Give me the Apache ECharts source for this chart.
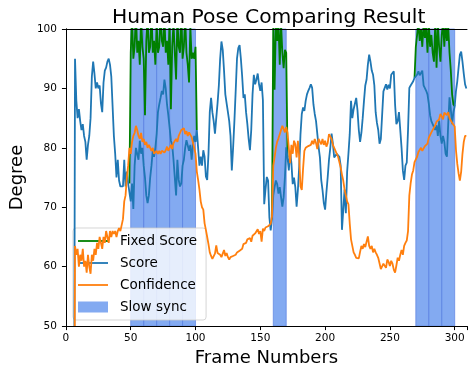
<!DOCTYPE html>
<html><head><meta charset="utf-8">
<script src="https://cdn.jsdelivr.net/npm/echarts@6/dist/echarts.min.js"></script>
<style>html,body{margin:0;padding:0;background:#fff}#c{width:470px;height:372px}</style>
</head><body><div id="c"></div>
<script>
const chartTitle = 'Human Pose Comparing Result';
const xName = 'Frame Numbers';
const yName = 'Degree';
const seriesNames = ['Fixed Score', 'Score', 'Confidence', 'Slow sync'];
const xTicks = [0, 50, 100, 150, 200, 250, 300];
const yTicks = [50, 60, 70, 80, 90, 100];

// Score and Confidence, one value per frame starting at frame 6
const firstFrame = 6;
const score = [0,
 95,88,85,86.5,84.5,83,84,82,81,78,
 80.5,82,85,92,94.5,92.5,90,91,90,90.5,
 87.5,86,91,93,93.5,94.5,95,94,92,87,
 82,79,75,78,74.5,73.5,73.5,73.5,78,73.5,
 76,74,74,71,74,69.7,77,80,79,78,
 81.2,79,80,77,75,72,70.7,72,75,77,
 79.6,78.5,80,82.3,86,87.3,88.4,89.6,89,91.5,
 90,87.3,85.5,83.4,81.2,80.5,78,75,72,78,
 74.6,73.5,74,77,78,80,81.3,81.5,79.5,80.5,
 78,80.5,82,81,83,80,77,78.5,77,79.6,
 78.5,75.2,74.6,79,86,88.4,86,84.5,82.4,85,
 87.5,90.5,95,97.9,96.5,93,89,87.5,86,84.5,
 82,76.2,80,84.5,89.6,95,96.8,97.3,95,92,
 88.4,89,86,84,81.5,79.6,83,89,92.3,90.7,
 91.5,92.5,90.7,89.6,91,88,70.5,73,75.1,74.5,
 68.3,66.1,68,72,73.4,74.5,73.9,72.3,73.4,71.7,
 70.1,71.7,75.1,80.1,78.4,76.2,79.5,77.4,73.9,75,
 73.4,70.1,72.9,76.8,82.3,85.7,86.8,86.2,87.9,89,
 89.6,90.1,90.7,90.1,87.3,85.7,84.5,82.3,80.1,78.4,
 74.6,72.9,70.7,69.6,72.5,75.1,78,80,82.4,80.7,
 78.4,78.2,79,79.3,78.5,77,66.2,69.5,73,69,
 76,79,82.3,87.9,85,86.5,86.2,88.4,86.3,83,
 81,82.5,85,87.9,90.5,91.5,94,95.7,94.5,93,
 92.3,90.5,86,84.2,83,80.7,81.5,85.5,89.5,90.1,
 90.7,89.8,90.6,90,92.3,92.3,92.9,87.3,84,84.5,
 86,83,80,76.2,74.6,77,77.5,83,90.1,90.5,
 90.8,91.2,91.8,92,92.3,92.9,92.2,92,93,90.5,
 90.7,89.6,89,87.5,85.5,84.5,84,83.5,83,83.8,
 82,84.6,82,80.7,82,81,79,78.5,84,88.5,
 86.5,84,86,87,89.6,91.2,93.5,95.7,96.2,94.5,
 92.5,90.7,90];

const confidence = [0,
 63.5,62,63,60,62,61,63,60,61,59,
 62,60,58.8,62,61,63,62,64,63,65,
 64,63,65,64,66,65,64,66,65,66,
 65.5,66,65,66,66.5,66,67,68,71,72,
 75,77,80,79,81,82,82.5,83.7,83,82,
 81.5,82.5,81,81.5,80.5,81,80,80.5,80,79.5,
 80,79,78.8,79.5,79,79.5,79,79.5,79.8,79.2,
 79.6,80.2,79.5,80,80.5,79.8,80.8,80.5,81.5,81,
 82,82.5,83,82.7,83.3,82.3,82.8,82,82.6,82.5,
 81.8,81.5,80,79,76,74.6,73,71,70,69.6,
 67.3,66.2,65,63.8,62.4,61.8,61.3,61.5,62.2,63.6,
 62.3,62.5,62,61.6,62.2,62.8,61.8,62.3,61.6,61.2,
 61.6,61.4,61.8,61.6,62,62.4,62.1,62.7,62.4,63,
 63.8,63.5,64,64.6,64.5,64.8,64.2,65.2,65,65.6,
 65.7,66.3,65.5,66,64.2,66.4,66,66.6,66.4,66.8,
 67,67.2,68.5,77,78.4,80,81,81.6,82.3,83,
 83.7,83.2,82.6,83.5,82.5,80,77.4,80.5,79,81.2,
 80.6,78.4,81.2,78.5,73.5,72.9,76.5,79.5,80,79.7,
 80.3,80.5,80.5,81.2,80.6,81.5,80.8,79.8,81.5,81,
 80.6,81.5,80.5,81.2,80.2,80.8,82.3,82,81.5,80.5,
 80,79.8,79,78.5,77.6,76.7,75.5,74.5,73,72,
 71,70.5,67.3,64.6,63.5,62.4,62,61.5,61.2,61.4,
 62.5,63.5,63,63.8,63.3,63.6,65.1,63.5,63,63.5,
 62.4,63,62.4,62,61.5,61.3,59.6,59.4,60.5,60.2,
 59.8,61.2,60.8,60.1,61,60.5,59.5,59,60.2,61.5,
 61,62,62.8,62,63.5,64,64.4,66,72,74,
 75.5,76.2,77.6,77.9,78.5,79.3,79.6,80,79.5,79.6,
 80.3,80.4,80.7,81.7,82,82.6,82.3,83.4,83.8,84.4,
 84.2,84.8,85.7,85.3,84.8,85.9,85.8,85.5,86,85,
 84.6,84.2,84,83.6,79.6,77.3,75.7,74.5,76,79,
 81,82,82];

// Fixed Score during the slow-sync stretches (one value per frame)
const fixed1Start = 49;
const fixed1 = [74,96,102,95,97,103,96,98,94,102,97,95,85.5,98,102,96,97,103,96,98,94,101,96,97,103,98,97,102,96,98,94,102,86.5,97,101,96,91.5,102,97,96,103,95,97,102,96,94,91,100.5,95,96,95,97,83];
const fixed2Start = 159;
const fixed2 = [68,101,89.8,101,98,101,94,101,96,93.4,96.5,96,78.4];
const fixed3Start = 269;
const fixed3 = [91.8,97,99,101,98,100,97,101,98.5,100.5,96,101,97,99,96,94.5,101,93.5,101,97,94.5,99,101,97,101,98,100.5,96,93,89,87.3,87];

// Slow sync spans (frame ranges)
const slowSync = [[50,60],[60,70],[70,80],[80,90],[90,100],[160,170],[270,280],[280,290],[290,300]];

const toPairs = (start, arr) => arr.map((v, i) => [start + i, v]);
const fixedData = []
  .concat(toPairs(fixed1Start, fixed1), [[fixed1Start + fixed1.length, '-']])
  .concat(toPairs(fixed2Start, fixed2), [[fixed2Start + fixed2.length, '-']])
  .concat(toPairs(fixed3Start, fixed3));

const FONT = 'DejaVu Sans';
const areaColor = 'rgba(100,149,237,0.8)';
const lineIcon = 'path://M0,0H30V1.8H0Z';
const chart = echarts.init(document.getElementById('c'), null, {renderer: 'canvas'});
const axisCommon = {
  axisLine: {show: true, lineStyle: {color: '#000', width: 1}},
  axisTick: {show: true, length: 4, lineStyle: {color: '#000'}},
  splitLine: {show: false},
  z: 10
};
chart.setOption({
  animation: false,
  backgroundColor: '#fff',
  title: {
    text: chartTitle, left: 107, top: 3,
    textStyle: {fontFamily: FONT, fontSize: 20.3, fontWeight: 'normal', color: '#000'}
  },
  grid: {left: 65, top: 29, width: 406, height: 300, containLabel: false},
  legend: {
    orient: 'vertical', left: 73, top: 228,
    data: [
      {name: seriesNames[0], icon: lineIcon}, {name: seriesNames[1], icon: lineIcon},
      {name: seriesNames[2], icon: lineIcon}, {name: seriesNames[3], icon: 'rect'}
    ],
    itemWidth: 30, itemHeight: 11, itemGap: 6,
    padding: [5, 9, 5, 5],
    backgroundColor: 'rgba(255,255,255,0.8)',
    borderColor: 'rgba(204,204,204,0.8)', borderWidth: 1, borderRadius: 3,
    selectedMode: false,
    textStyle: {fontFamily: FONT, fontSize: 13.5, color: '#000', lineHeight: 16, padding: [0, 0, 0, 7]}
  },
  xAxis: [
    Object.assign({}, axisCommon, {
      type: 'value', min: 0, max: 309.5, interval: 50, position: 'bottom',
      name: xName, nameLocation: 'middle', nameGap: 20,
      nameTextStyle: {fontFamily: FONT, fontSize: 18, color: '#000'},
      axisLabel: {fontFamily: FONT, fontSize: 10.5, color: '#000', margin: 7,
        formatter: v => xTicks.includes(v) ? String(v) : ''}
    }),
    Object.assign({}, axisCommon, {
      type: 'value', min: 0, max: 309.5, position: 'top',
      axisTick: {show: false}, axisLabel: {show: false}
    })
  ],
  yAxis: [
    Object.assign({}, axisCommon, {
      type: 'value', min: 50, max: 100, interval: 10, position: 'left',
      name: yName, nameLocation: 'middle', nameGap: 31,
      nameTextStyle: {fontFamily: FONT, fontSize: 18, color: '#000'},
      axisLabel: {fontFamily: FONT, fontSize: 10.5, color: '#000', margin: 9,
        formatter: v => yTicks.includes(v) ? String(v) : ''}
    }),
    Object.assign({}, axisCommon, {
      type: 'value', min: 50, max: 100, position: 'right',
      axisTick: {show: false}, axisLabel: {show: false}
    })
  ],
  series: [
    {
      name: seriesNames[3], type: 'line', data: [], z: 1,
      symbol: 'none', itemStyle: {color: areaColor}, lineStyle: {color: areaColor},
      markArea: {
        silent: true,
        itemStyle: {color: areaColor, borderColor: 'rgba(90,130,225,0.7)', borderWidth: 1},
        data: slowSync.map(s => [{xAxis: s[0]}, {xAxis: s[1]}])
      }
    },
    {
      name: seriesNames[0], type: 'line', data: fixedData, z: 3,
      symbol: 'none', connectNulls: false, clip: true,
      itemStyle: {color: '#008000'}, lineStyle: {color: '#008000', width: 1.8}
    },
    {
      name: seriesNames[1], type: 'line', data: toPairs(firstFrame, score), z: 4,
      symbol: 'none', clip: true,
      itemStyle: {color: '#1f77b4'}, lineStyle: {color: '#1f77b4', width: 1.8}
    },
    {
      name: seriesNames[2], type: 'line', data: toPairs(firstFrame, confidence), z: 5,
      symbol: 'none', clip: true,
      itemStyle: {color: '#ff7f0e'}, lineStyle: {color: '#ff7f0e', width: 1.8}
    }
  ]
});
</script>
</body></html>
